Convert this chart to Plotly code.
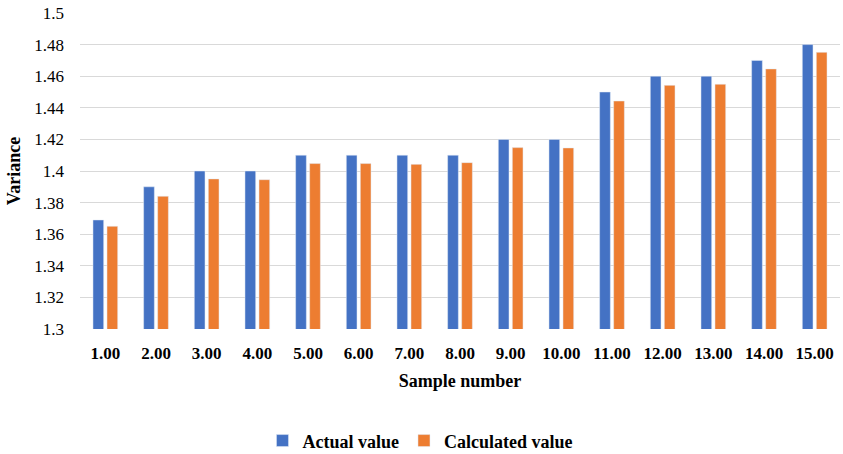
import plotly.graph_objects as go

categories = ["1.00", "2.00", "3.00", "4.00", "5.00", "6.00", "7.00", "8.00",
              "9.00", "10.00", "11.00", "12.00", "13.00", "14.00", "15.00"]
actual = [1.369, 1.390, 1.400, 1.400, 1.410, 1.410, 1.410, 1.410,
          1.420, 1.420, 1.450, 1.460, 1.460, 1.470, 1.480]
calculated = [1.365, 1.384, 1.395, 1.3945, 1.4047, 1.4047, 1.4042, 1.4053,
              1.4148, 1.4146, 1.4443, 1.4542, 1.4549, 1.4646, 1.4751]
y_tick_vals = [1.3, 1.32, 1.34, 1.36, 1.38, 1.4, 1.42, 1.44, 1.46, 1.48, 1.5]
y_tick_text = ["1.3", "1.32", "1.34", "1.36", "1.38", "1.4", "1.42", "1.44", "1.46", "1.48", "1.5"]

FONT = "Liberation Serif"

fig = go.Figure()
fig.add_trace(go.Bar(x=categories, y=actual, name="<b>Actual value</b>",
                     marker=dict(color="#4472C4")))
fig.add_trace(go.Bar(x=categories, y=calculated, name="<b>Calculated value</b>",
                     marker=dict(color="#ED7D31")))

fig.update_layout(
    width=843, height=454,
    margin=dict(l=80, r=3, t=13, b=125, autoexpand=False),
    paper_bgcolor="white", plot_bgcolor="white",
    barmode="group", bargap=0.447, bargroupgap=0.236,
    font=dict(family=FONT, size=17, color="black"),
    showlegend=True,
    legend=dict(orientation="h", x=0.448, xanchor="center", y=-0.354, yanchor="middle",
                font=dict(family=FONT, size=18, color="black"),
                itemwidth=30, traceorder="normal"),
    xaxis=dict(type="category", showgrid=False, showline=False, zeroline=False,
               automargin=False,
               tickfont=dict(family=FONT, size=17, color="black"),
               ticklabelstandoff=12,
               title=dict(text="<b>Sample number</b>", standoff=12,
                          font=dict(family=FONT, size=18, color="black"))),
    yaxis=dict(range=[1.3, 1.5], tickvals=y_tick_vals, ticktext=y_tick_text,
               automargin=False, ticklabeloverflow="allow",
               showgrid=True, gridcolor="#d9d9d9", gridwidth=1,
               showline=False, zeroline=False,
               tickfont=dict(family=FONT, size=17, color="black"),
               ticklabelstandoff=15,
               title=dict(text="<b>Variance</b>", standoff=8,
                          font=dict(family=FONT, size=18, color="black"))),
)
fig.update_yaxes(tickprefix="<b>", ticksuffix="</b>")
fig.update_xaxes(tickprefix="<b>", ticksuffix="</b>")

# remove the browser's default 8px page margin so the figure fills the window
fig.write_html("out.html",
               config={"displayModeBar": False},
               post_script="document.body.style.margin='0';document.body.style.overflow='hidden';")
